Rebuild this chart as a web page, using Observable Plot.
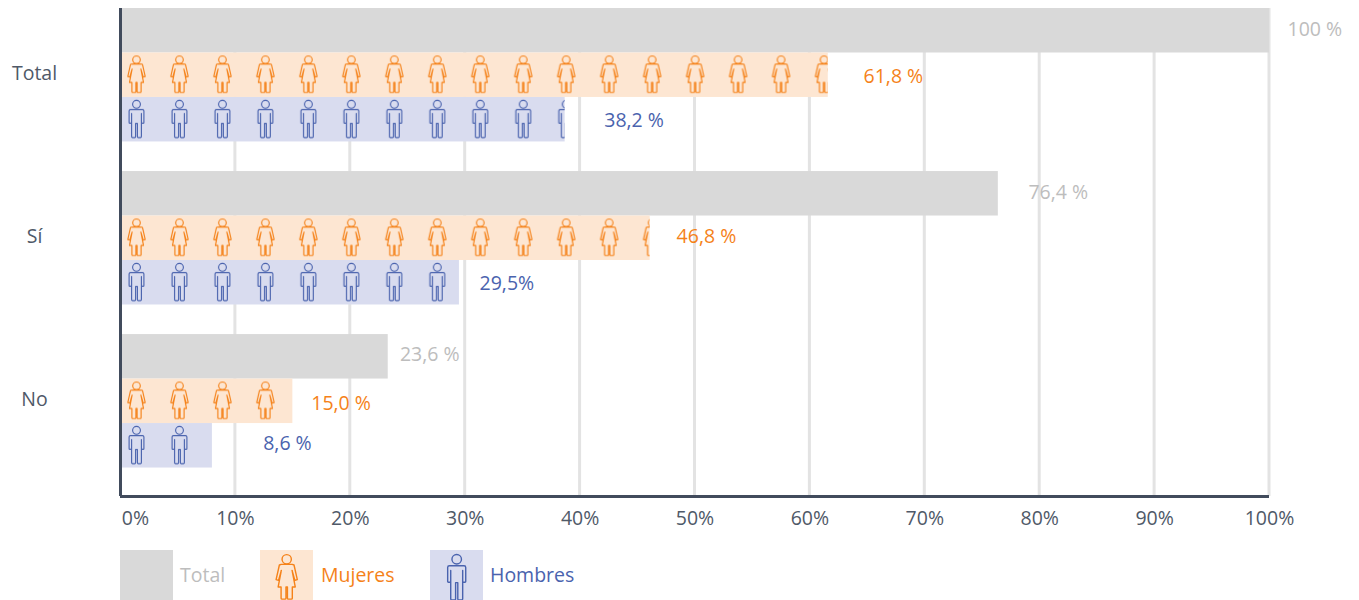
<!DOCTYPE html>
<html lang="es">
<head>
<meta charset="utf-8">
<script src="https://cdn.jsdelivr.net/npm/d3@7"></script>
<script src="https://cdn.jsdelivr.net/npm/@observablehq/plot@0.6"></script>
<style>
  html, body { margin: 0; padding: 0; background: #fff; overflow: hidden; }
  body { font-family: "Open Sans", sans-serif; width: 1359px; height: 600px; }
  #chart svg { display: block; }
  #legend { position: relative; height: 50px; margin-top: 10px; font-size: 19.5px; }
  #legend .sw { position: absolute; top: 0; width: 53px; height: 50px; }
  #legend .sw svg { display: block; }
  #legend .lb { position: absolute; top: 0; line-height: 50px; }
</style>
</head>
<body>
<div id="chart"></div>
<div id="legend"></div>
<script>
const categories = ["Total", "Sí", "No"];
const series = ["Total", "Mujeres", "Hombres"];
// Bar lengths as drawn in the picture (%), by category
const totalValues = [100, 76.4, 23.3];
const womenValues = [61.6, 46.1, 15.0];
const menValues = [38.7, 29.5, 8.0];
// Printed labels
const totalLabels = ["100 %", "76,4 %", "23,6 %"];
const womenLabels = ["61,8 %", "46,8 %", "15,0 %"];
const menLabels = ["38,2 %", "29,5%", "8,6 %"];
// Where each label starts on the % axis
const totalLabelAt = [101.57, 79.02, 24.32];
const womenLabelAt = [64.67, 48.4, 16.6];
const menLabelAt = [42.1, 31.25, 12.42];
// Small vertical nudges of labels, in row units
const totalLabelShift = [-0.03, -0.02, -0.05];
const womenLabelShift = [0.03, -0.03, 0.05];
const menLabelShift = [0.02, 0.03, -0.04];
const xTicks = [0, 10, 20, 30, 40, 50, 60, 70, 80, 90, 100];

const colors = {
  Total: {bar: "#d9d9d9", text: "#bdbdbd"},
  Mujeres: {bar: "#fde6d2", text: "#f58219"},
  Hombres: {bar: "#d9dcef", text: "#4a63ae"}
};
const axisColor = "#414b5c", tickColor = "#4f5968", gridColor = "#e3e3e3";
const groupStep = 3.665, iconStep = 3.74, axisEnd = 10.97;

const womanPath = "M-4.5,8.5H4.5L6,9L8.7,21L6.7,21.6L4.4,13.5L7,27H4.6V36.3Q4.6,37 3.8,37H1.4Q0.6,37 0.6,36.3V27H-0.6V36.3Q-0.6,37 -1.4,37H-3.8Q-4.6,37 -4.6,36.3V27H-7L-4.4,13.5L-6.7,21.6L-8.7,21L-6,9Z";
const manPath = "M-7.4,11Q-7.4,9.6 -6,9.6H6Q7.4,9.6 7.4,11V22.6Q7.4,23.2 6.8,23.2H5.4Q4.9,23.2 4.9,22.6V13.5V36.6Q4.9,37.6 3.9,37.6H1.7Q0.9,37.6 0.9,36.6V23.5H-0.9V36.6Q-0.9,37.6 -1.7,37.6H-3.9Q-4.9,37.6 -4.9,36.6V13.5V22.6Q-4.9,23.2 -5.4,23.2H-6.8Q-7.4,23.2 -7.4,22.6Z";
const icons = {
  Mujeres: {path: womanPath, cy: 4.3, r: 3.8},
  Hombres: {path: manPath, cy: 4.3, r: 3.9}
};

function drawIcon(parent, name) {
  const ic = icons[name];
  parent.append("circle").attr("cx", 0).attr("cy", ic.cy).attr("r", ic.r)
    .attr("fill", "none").attr("stroke", colors[name].text).attr("stroke-width", 1.15);
  parent.append("path").attr("d", ic.path)
    .attr("fill", "none").attr("stroke", colors[name].text).attr("stroke-width", 1.15)
    .attr("stroke-linejoin", "round");
}

const rows = categories.flatMap((category, c) => [
  {category, s: "Total", value: totalValues[c], label: totalLabels[c], labelAt: totalLabelAt[c], row: c * groupStep, shift: totalLabelShift[c]},
  {category, s: "Mujeres", value: womenValues[c], label: womenLabels[c], labelAt: womenLabelAt[c], row: c * groupStep + 1, shift: womenLabelShift[c]},
  {category, s: "Hombres", value: menValues[c], label: menLabels[c], labelAt: menLabelAt[c], row: c * groupStep + 2, shift: menLabelShift[c]}
]);

function patterns(index, scales) {
  const defs = d3.create("svg:defs");
  for (const name of ["Mujeres", "Hombres"]) {
    const firstRow = name === "Mujeres" ? 1 : 2;
    const w = scales.x(iconStep) - scales.x(0);
    const h = scales.y(groupStep) - scales.y(0);
    const p = defs.append("pattern")
      .attr("id", "icons-" + name)
      .attr("patternUnits", "userSpaceOnUse")
      .attr("x", scales.x(0)).attr("y", scales.y(firstRow))
      .attr("width", w).attr("height", h);
    p.append("rect").attr("width", w).attr("height", h).attr("fill", colors[name].bar);
    drawIcon(p.append("g").attr("transform", "translate(16.5,3)"), name);
  }
  return defs.node();
}

const barMark = (name, fill) => Plot.rectX(rows.filter(d => d.s === name), {
  x1: 0, x2: "value", y1: "row", y2: d => d.row + 1, fill, inset: 0
});
const labelMark = name => Plot.text(rows.filter(d => d.s === name), {
  x: "labelAt", y: d => d.row + 0.5 + d.shift, text: "label",
  textAnchor: "start", fill: colors[name].text
});

const chart = Plot.plot({
  width: 1359,
  height: 540,
  marginLeft: 120,
  marginRight: 90,
  marginTop: 8,
  marginBottom: 44,
  style: {fontFamily: "'Open Sans', sans-serif", fontSize: "19.5px", background: "#fff"},
  x: {domain: [0, 100], label: null},
  y: {domain: [0, axisEnd], reverse: true, axis: null, label: null},
  marks: [
    patterns,
    Plot.ruleX(xTicks.slice(1), {stroke: gridColor, strokeWidth: 3, dx: -0.5}),
    barMark("Total", colors.Total.bar),
    barMark("Mujeres", "url(#icons-Mujeres)"),
    barMark("Hombres", "url(#icons-Hombres)"),
    Plot.ruleX([0], {stroke: axisColor, strokeWidth: 3}),
    Plot.ruleY([axisEnd], {stroke: axisColor, strokeWidth: 3}),
    Plot.axisX(xTicks.slice(1), {
      tickSize: 0, tickPadding: 15, tickFormat: d => d + "%", fill: tickColor, label: null
    }),
    Plot.axisX([0], {
      tickSize: 0, tickPadding: 15, tickFormat: d => d + "%", fill: tickColor, label: null, dx: 15
    }),
    Plot.text(categories, {
      x: 0, y: (d, i) => i * groupStep + 1.47, text: d => d,
      textAnchor: "middle", dx: -86, fill: tickColor
    }),
    labelMark("Total"),
    labelMark("Mujeres"),
    labelMark("Hombres")
  ]
});
document.getElementById("chart").append(chart);

// Legend, below the SVG
const legend = d3.select("#legend");
const swatchX = {Total: 120, Mujeres: 260, Hombres: 430};
const labelX = {Total: 180, Mujeres: 321, Hombres: 490};
for (const name of series) {
  const sw = legend.append("div").attr("class", "sw")
    .style("left", swatchX[name] + "px").style("background", colors[name].bar);
  if (icons[name]) {
    const svg = sw.append("svg").attr("width", 53).attr("height", 50);
    drawIcon(svg.append("g").attr("transform", "translate(26.7,4) scale(1.22)"), name);
  }
  legend.append("div").attr("class", "lb")
    .style("left", labelX[name] + "px").style("color", colors[name].text).text(name);
}
</script>
</body>
</html>
